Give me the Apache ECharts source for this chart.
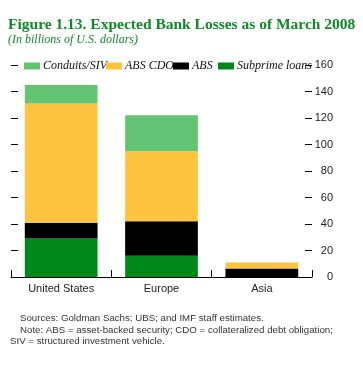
<!DOCTYPE html>
<html><head><meta charset="utf-8">
<script src="https://cdn.jsdelivr.net/npm/echarts@6/dist/echarts.min.js"></script>
<style>html,body{margin:0;padding:0;background:#fff}#c{width:363px;height:369px}</style>
</head><body><div id="c"></div>
<script>
const categories = ['United States', 'Europe', 'Asia'];
const subprimeLoans = [29, 16, 0];
const abs = [12, 26, 6.5];
const absCdos = [90, 53, 4.5];
const conduitsSivs = [14, 27, 0];
const yTicks = [0, 20, 40, 60, 80, 100, 120, 140, 160];

const seriesDefs = [
  {name: 'Subprime loans', data: subprimeLoans, color: '#00881b'},
  {name: 'ABS', data: abs, color: '#000000'},
  {name: 'ABS CDOs', data: absCdos, color: '#fec440'},
  {name: 'Conduits/SIVs', data: conduitsSivs, color: '#63c574'}
];
const legendOrder = ['Conduits/SIVs', 'ABS CDOs', 'ABS', 'Subprime loans'];
const legendLeft = [22, 104, 171, 216];

const chart = echarts.init(document.getElementById('c'), null, {renderer: 'canvas'});
const yMin = yTicks[0], yMax = yTicks[yTicks.length - 1], yStep = yTicks[1] - yTicks[0];
const axisCommon = {
  type: 'value', min: yMin, max: yMax, interval: yStep,
  axisLine: {show: false},
  axisTick: {show: true, inside: true, length: 7, lineStyle: {color: '#000', width: 1}},
  splitLine: {show: false}
};
chart.setOption({
  animation: false,
  backgroundColor: '#fff',
  grid: {left: 11, right: 51, top: 65, bottom: 92, containLabel: false},
  xAxis: {
    type: 'category', data: categories,
    axisLine: {show: true, lineStyle: {color: '#000', width: 1}},
    axisTick: {show: true, inside: true, length: 7, lineStyle: {color: '#000'}},
    axisLabel: {color: '#222', fontFamily: 'Liberation Sans, Arial', fontSize: 11, margin: 6}
  },
  yAxis: [
    Object.assign({}, axisCommon, {position: 'left', axisLabel: {show: false}}),
    Object.assign({}, axisCommon, {position: 'right',
      axisLabel: {show: true, color: '#222', fontFamily: 'Liberation Sans, Arial', fontSize: 11, align: 'right', margin: 21,
        formatter: v => yTicks.includes(v) ? String(v) : ''}})
  ],
  legend: legendOrder.map((n, i) => ({
    data: [n], left: legendLeft[i], top: 58, itemWidth: 16, itemHeight: 7, itemGap: 0,
    selectedMode: false, padding: 2,
    icon: 'rect',
    textStyle: {fontFamily: 'Liberation Serif, Times New Roman', fontStyle: 'italic', fontSize: 12, color: '#111', padding: [0, 0, 0, -2]}
  })),
  series: seriesDefs.map(s => ({
    name: s.name, type: 'bar', stack: 'total', data: s.data,
    barWidth: '72.5%', yAxisIndex: 0,
    itemStyle: {color: s.color}
  })),
  graphic: [
    {type: 'text', left: 8, top: 17, style: {text: 'Figure 1.13. Expected Bank Losses as of March 2008', font: 'bold 15.5px "Liberation Serif", "Times New Roman", serif', fill: '#0f8a26'}},
    {type: 'text', left: 8, top: 34, style: {text: '(In billions of U.S. dollars)', font: 'italic 12px "Liberation Serif", "Times New Roman", serif', fill: '#0f8a26'}},
    {type: 'text', left: 20, top: 313, style: {text: 'Sources: Goldman Sachs; UBS; and IMF staff estimates.', font: '9.7px "Liberation Sans", Arial, sans-serif', fill: '#333'}},
    {type: 'text', left: 20, top: 325, style: {text: 'Note: ABS = asset-backed security; CDO = collateralized debt obligation;', font: '9.7px "Liberation Sans", Arial, sans-serif', fill: '#333'}},
    {type: 'text', left: 10, top: 336, style: {text: 'SIV = structured investment vehicle.', font: '9.7px "Liberation Sans", Arial, sans-serif', fill: '#333'}}
  ]
});
</script></body></html>
